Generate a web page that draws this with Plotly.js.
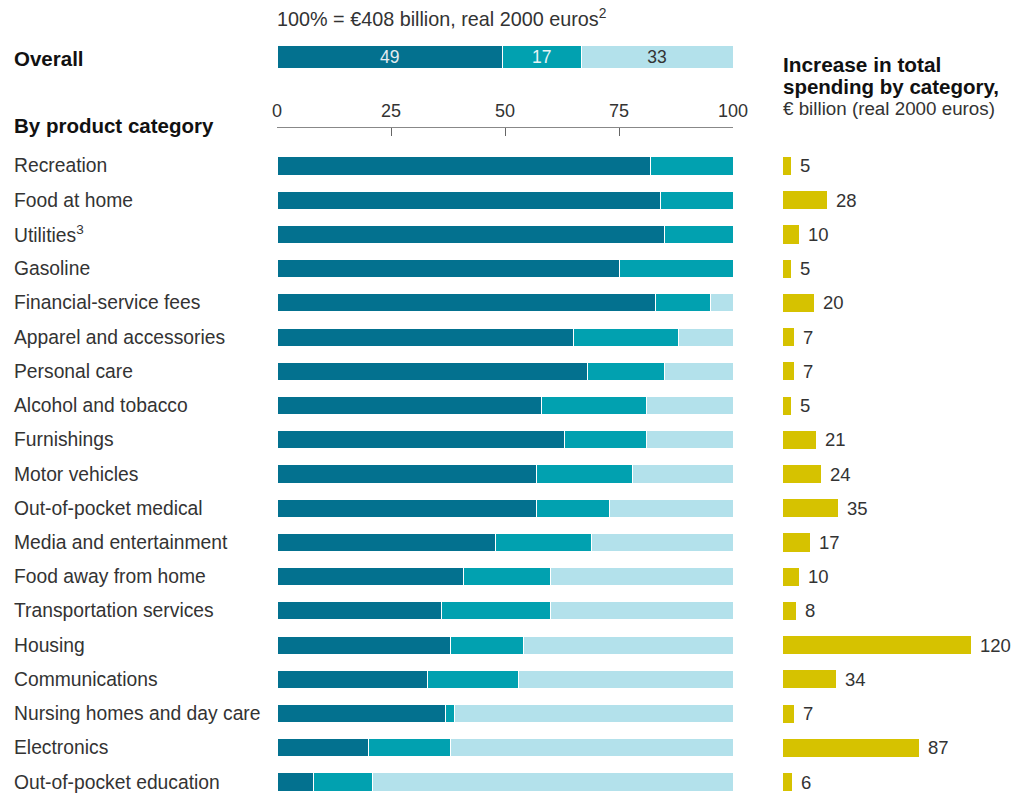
<!DOCTYPE html>
<html>
<head>
<meta charset="utf-8">
<script src="https://cdn.plot.ly/plotly-3.0.1.min.js"></script>
<style>html,body{margin:0;padding:0;background:#fff;}#chart{width:1024px;height:793px;}</style>
</head>
<body>
<div id="chart"></div>
<script>
const categories = ["Recreation","Food at home","Utilities<sup>3</sup>","Gasoline","Financial-service fees","Apparel and accessories","Personal care","Alcohol and tobacco","Furnishings","Motor vehicles","Out-of-pocket medical","Media and entertainment","Food away from home","Transportation services","Housing","Communications","Nursing homes and day care","Electronics","Out-of-pocket education"];
const seg1 = [82,84,85,75,83,65,68,58,63,57,57,48,41,36,38,33,37,20,8];
const seg2 = [18,16,15,25,12,23,17,23,18,21,16,21,19,24,16,20,2,18,13];
const seg3 = [0,0,0,0,5,12,15,19,19,22,27,31,40,40,46,47,61,62,79];
const increase = [5,28,10,5,20,7,7,5,21,24,35,17,10,8,120,34,7,87,6];
const overall = [49.4,17.3,33.3];
const overallText = ["49","17","33"];
const overallLabel = ["Overall"];
const ticks = [0,25,50,75,100];

const C1 = "#03718F", C2 = "#01A1B0", C3 = "#B3E1EB", CY = "#D6C200";
const FONT = "Liberation Sans, Arial, sans-serif";
const idx = categories.map((_, i) => i);
const BW = 0.53;

function segTrace(vals, color) {
  return {type:"bar", orientation:"h", x:vals, y:idx, xaxis:"x", yaxis:"y",
    width:BW, marker:{color:color, line:{color:"#fff", width:1}}, hoverinfo:"none"};
}
function overallTrace(k, color, tcolor) {
  return {type:"bar", orientation:"h", x:[overall[k]], y:[0], xaxis:"x", yaxis:"y2",
    width:1, marker:{color:color, line:{color:"#fff", width:1}},
    text:[overallText[k]], textposition:"inside", insidetextanchor:"middle", textangle:0,
    constraintext:"none",
    textfont:{family:FONT, size:17.5, color:tcolor}, hoverinfo:"none"};
}

const data = [
  segTrace(seg1, C1), segTrace(seg2, C2), segTrace(seg3, C3),
  overallTrace(0, C1, "#E3ECF0"), overallTrace(1, C2, "#E6F4F6"), overallTrace(2, C3, "#333"),
  {type:"bar", orientation:"h", x:increase, y:idx, xaxis:"x3", yaxis:"y", width:BW,
   marker:{color:CY}, hoverinfo:"none"}
];

const annotations = [];
categories.forEach((c, i) => {
  annotations.push({xref:"paper", yref:"y", x:12/1024, y:i, xanchor:"left", yanchor:"middle",
    text:c, showarrow:false, font:{family:FONT, size:19.3, color:"#333"}});
  annotations.push({xref:"x3", yref:"y", x:increase[i], y:i, xanchor:"left", yanchor:"middle",
    xshift:7, text:String(increase[i]), showarrow:false, font:{family:FONT, size:18.5, color:"#333"}});
});
function txt(x, y, t, size, color, anchor) {
  annotations.push({xref:"paper", yref:"paper", x:x/1024, y:1-y/793, xanchor:anchor||"left", yanchor:"middle",
    text:t, showarrow:false, font:{family:FONT, size:size, color:color}});
}
txt(12, 59, "<b>"+overallLabel[0]+"</b>", 20.5, "#111");
txt(12, 125, "<b>By product category</b>", 20.5, "#111");
txt(275, 18, "100% = €408 billion, real 2000 euros<sup>2</sup>", 19.8, "#333");
txt(781, 64, "<b>Increase in total</b>", 20.8, "#111");
txt(781, 87, "<b>spending by category,</b>", 20.5, "#111");
txt(781, 109, "€ billion (real 2000 euros)", 18.8, "#333");

const layout = {
  width:1024, height:793, margin:{l:0, r:0, t:0, b:0},
  paper_bgcolor:"#fff", plot_bgcolor:"rgba(0,0,0,0)",
  barmode:"stack", showlegend:false,
  xaxis:{domain:[277/1024, 733/1024], range:[0,100], side:"top", anchor:"y",
    tickvals:ticks, ticktext:ticks.map(String), ticks:"inside", ticklen:8, tickcolor:"#666", tickwidth:1,
    showline:true, linecolor:"#888", linewidth:1, showgrid:false, zeroline:false, ticklabelstandoff:3,
    tickfont:{family:FONT, size:18, color:"#333"}, fixedrange:true},
  yaxis:{domain:[0, (793-128)/793], range:[18.32, -1.11], showticklabels:false, showgrid:false,
    zeroline:false, ticks:"", showline:false, fixedrange:true},
  yaxis2:{domain:[1-68/793, 1-45/793], range:[-0.5,0.5], anchor:"x", showticklabels:false, showgrid:false,
    zeroline:false, ticks:"", showline:false, fixedrange:true},
  xaxis3:{domain:[783/1024, 1018/1024], range:[0,150], anchor:"y", showticklabels:false, showgrid:false,
    zeroline:false, ticks:"", showline:false, fixedrange:true},
  annotations:annotations
};

Plotly.newPlot("chart", data, layout, {displayModeBar:false, staticPlot:true});
</script>
</body>
</html>
